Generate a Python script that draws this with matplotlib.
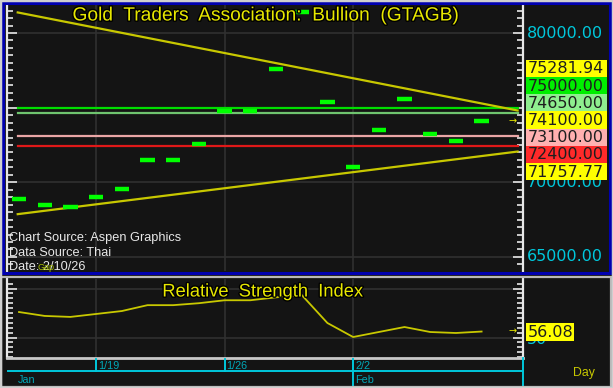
import matplotlib
matplotlib.use('Agg')
import matplotlib.pyplot as plt
import matplotlib.patheffects as pe
from matplotlib.patches import Rectangle
from matplotlib.lines import Line2D
from matplotlib.ticker import MultipleLocator

# ---------------- data ----------------
dates = ['1/14', '1/15', '1/16', '1/19', '1/20', '1/21', '1/22', '1/23', '1/26', '1/27',
         '1/28', '1/29', '1/30', '2/2', '2/3', '2/4', '2/5', '2/6', '2/9']
closes = [68881, 68480, 68346, 69016, 69551, 71494, 71494, 72565, 74776, 74776,
          77589, 81407, 75378, 71025, 73503, 75580, 73235, 72766, 74100]
rsi = [76, 72, 71, 74, 77, 83, 83, 85, 88, 88, 91, 93.4, 64.8, 50.5, 55.6, 60.7, 55.6, 54.6, 56.08]
last_price = 74100.00
last_rsi = 56.08
levels = [75000.00, 74650.00, 73100.00, 72400.00]
level_line_colors = ['#00dd00', '#6fc46f', '#eaa6a6', '#e01818']
level_box_colors = ['#00ee00', '#8fef8f', '#ffb0b0', '#ff2a2a']
trend_down = (81360.0, 75281.94)   # value at first bar, value at last bar
trend_up = (67877.0, 71757.77)
price_grid = [80000, 75000, 70000, 65000]
price_labels = [80000, 70000, 65000]
rsi_ticks = [50]
week_labels = ['1/19', '1/26', '2/2']
month_labels = ['Jan', 'Feb']
title = 'Gold  Traders  Association:  Bullion  (GTAGB)'
rsi_title = 'Relative  Strength  Index'
footer = ['Chart Source: Aspen Graphics', 'Data Source: Thai', 'Date: 2/10/26']

# ---------------- styling ----------------
W, H, DPI = 613, 388, 100
BG = '#141414'
GRID = '#303030'
YEL = '#c8c800'
TITLE_Y = '#e8e800'
CYAN = '#00c8dc'
DASH = '#00ff00'
plt.rcParams['font.family'] = ['Liberation Sans', 'DejaVu Sans']

fig = plt.figure(figsize=(W / DPI, H / DPI), dpi=DPI, facecolor=BG)

def fx(px):
    return px / W

def fy(py):
    return 1 - py / H

n = len(closes)
idx = list(range(n))
X0, XSTEP = 19.0, 25.7          # pixel of first bar, pixels per bar
AX_L, AX_R = 7, 523
xlim = ((AX_L - X0) / XSTEP, (AX_R - X0) / XSTEP)

# main panel
M_T, M_B = 5, 271
ax = fig.add_axes([fx(AX_L), fy(M_B), fx(AX_R - AX_L), (M_B - M_T) / H])
k = 0.01493  # px per price unit
ax.set_ylim(80000 - (M_B - 33) / k, 80000 + (33 - M_T) / k)
ax.set_xlim(*xlim)
ax.set_facecolor(BG)

# rsi panel
R_T, R_B = 279, 358
axr = fig.add_axes([fx(AX_L), fy(R_B), fx(AX_R - AX_L), (R_B - R_T) / H])
kr = 0.98
axr.set_ylim(50 - (R_B - 337.5) / kr, 50 + (337.5 - R_T) / kr)
axr.set_xlim(*xlim)
axr.set_facecolor(BG)

week_idx = [dates.index(w) for w in week_labels]

for a, major, minor in ((ax, 5000, 500), (axr, 50, 5)):
    for s in ('top', 'bottom'):
        a.spines[s].set_visible(False)
    for s in ('left', 'right'):
        a.spines[s].set_color('#e8e8e8')
        a.spines[s].set_linewidth(1.6)
    a.yaxis.set_major_locator(MultipleLocator(major))
    a.yaxis.set_minor_locator(MultipleLocator(minor))
    a.tick_params(axis='y', which='both', direction='in', left=True, right=True,
                  labelleft=False, labelright=False, colors='#e8e8e8', width=1.2)
    a.tick_params(axis='y', which='major', length=7)
    a.tick_params(axis='y', which='minor', length=4)
    a.tick_params(axis='x', which='both', bottom=False, labelbottom=False)
    for wi in week_idx:
        a.axvline(wi, color=GRID, lw=1.2, zorder=0)
axr.spines['bottom'].set_visible(True)
axr.spines['bottom'].set_color('#c8c8c8')
axr.spines['bottom'].set_linewidth(2)

for p in price_grid:
    ax.axhline(p, color=GRID, lw=1.2, zorder=0)
axr.axhline(50, color=GRID, lw=1.2, zorder=0)
axr.axhline(100, color=GRID, lw=1.2, zorder=0)

# horizontal levels
x_a, x_b = -0.05, 19.4
for v, c in zip(levels, level_line_colors):
    ax.plot([x_a, x_b], [v, v], color=c, lw=1.6, zorder=2)

# trendlines
def tl(pair, x):
    a0, a1 = pair
    return a0 + (a1 - a0) * x / (n - 1)

for pair in (trend_down, trend_up):
    ax.plot([x_a, x_b], [tl(pair, x_a), tl(pair, x_b)], color=YEL, lw=1.6, zorder=3)

# close dashes
ax.hlines(closes, [i - 0.28 for i in idx], [i + 0.28 for i in idx],
          color=DASH, lw=3.2, zorder=4)

# rsi line
axr.plot(idx, rsi, color=YEL, lw=1.3, zorder=3)

# titles
fig.text(fx(265), fy(16), title, color=TITLE_Y, fontsize=13.8, ha='center', va='center',
         path_effects=[pe.withStroke(linewidth=2, foreground='black')], zorder=10)
fig.text(fx(263), fy(292), rsi_title, color=TITLE_Y, fontsize=13.2, ha='center', va='center',
         path_effects=[pe.withStroke(linewidth=2, foreground='black')], zorder=10)

# footer
for j, t in enumerate(footer):
    fig.text(fx(9), fy(238.5 + 14.5 * j), t, color='#e8e8e8', fontsize=9.2,
             ha='left', va='center', zorder=10)
fig.text(fx(38), fy(268), 'Gap', color='#a8c000', fontsize=6.5, ha='left', va='center', zorder=11)

# convert data to pixel
fig.canvas.draw()

def data_py(a, v):
    return H - a.transData.transform((0, v))[1]

def data_px(a, x):
    return a.transData.transform((x, 0))[0]

# cyan scale labels
for p in price_labels:
    fig.text(fx(527), fy(data_py(ax, p)), f'{p:.2f}', color=CYAN, fontsize=11.5,
             family='DejaVu Sans', ha='left', va='center', zorder=12)
for r in rsi_ticks:
    fig.text(fx(527), fy(data_py(axr, r) + 2), f'{r}', color=CYAN, fontsize=11.5,
             family='DejaVu Sans', ha='left', va='center', zorder=12)

# stacked price boxes
box_vals = [trend_down[1]] + levels[:2] + [last_price] + levels[2:] + [trend_up[1]]
box_cols = ['#ffff00'] + level_box_colors[:2] + ['#ffff00'] + level_box_colors[2:] + ['#ffff00']
order = sorted(range(len(box_vals)), key=lambda j: -box_vals[j])
anchor_pos = [box_vals[j] for j in order].index(last_price)
anchor_py = data_py(ax, last_price) - 1
BH = 17.2
for pos, j in enumerate(order):
    cy = anchor_py + (pos - anchor_pos) * BH
    fig.patches.append(Rectangle((fx(526), fy(cy + BH / 2)), fx(81), BH / H,
                                 transform=fig.transFigure, facecolor=box_cols[j],
                                 edgecolor='none', zorder=13))
    fig.text(fx(527.5), fy(cy + 0.5), f'{box_vals[j]:.2f}', color='#1e1e1e', fontsize=11.5,
             family='DejaVu Sans', ha='left', va='center', zorder=14)

# arrows
fig.text(fx(513), fy(data_py(ax, last_price)), '\u2192', color='#e8e800', fontsize=7,
         family='DejaVu Sans', ha='center', va='center', zorder=14)
ry = data_py(axr, last_rsi)
fig.text(fx(513), fy(ry), '\u2192', color='#e8e800', fontsize=7,
         family='DejaVu Sans', ha='center', va='center', zorder=14)
fig.patches.append(Rectangle((fx(526), fy(ry + 9)), fx(48), 18 / H, transform=fig.transFigure,
                             facecolor='#ffff00', edgecolor='none', zorder=13))
fig.text(fx(527.5), fy(ry + 0.5), f'{last_rsi:.2f}', color='#1e1e1e', fontsize=11.5,
         family='DejaVu Sans', ha='left', va='center', zorder=14)

# time axis
def fline(x0, y0, x1, y1, c, lw, z=12):
    fig.add_artist(Line2D([fx(x0), fx(x1)], [fy(y0), fy(y1)], color=c, lw=lw,
                          transform=fig.transFigure, zorder=z))

fline(8, 371, AX_R, 371, CYAN, 1.4)
fline(AX_R, 358, AX_R, 388, CYAN, 1.4)
for wl, wi in zip(week_labels, week_idx):
    px = data_px(ax, wi)
    month_start = dates[wi - 1].split('/')[0] != dates[wi].split('/')[0]
    fline(px, 359, px, 388 if month_start else 371, CYAN, 1.4)
    fig.text(fx(px + 2), fy(366), wl, color='#00a8b8', fontsize=7.8, ha='left', va='center', zorder=12)
fig.text(fx(data_px(ax, 0) - 1), fy(380), month_labels[0], color='#00a8b8', fontsize=7.8,
         ha='left', va='center', zorder=12)
fig.text(fx(data_px(ax, week_idx[2]) + 2), fy(380), month_labels[1], color='#00a8b8', fontsize=7.8,
         ha='left', va='center', zorder=12)
fig.text(fx(573), fy(373), 'Day', color=YEL, fontsize=8.8, ha='left', va='center', zorder=12)

# frames
fig.patches.append(Rectangle((fx(2.5), fy(272.5)), fx(607), 269.5 / H, transform=fig.transFigure,
                             facecolor='none', edgecolor='#0000b0', lw=2.2, zorder=15))
fig.patches.append(Rectangle((fx(1.5), fy(386.5)), fx(609), 110 / H, transform=fig.transFigure,
                             facecolor='none', edgecolor='#b8b8b8', lw=1.6, zorder=15))
fig.patches.append(Rectangle((0, 0), 1, 1, transform=fig.transFigure,
                             facecolor='none', edgecolor='#cfcfcf', lw=2.5, zorder=16))

fig.savefig('out.png', dpi=DPI, facecolor=BG)
